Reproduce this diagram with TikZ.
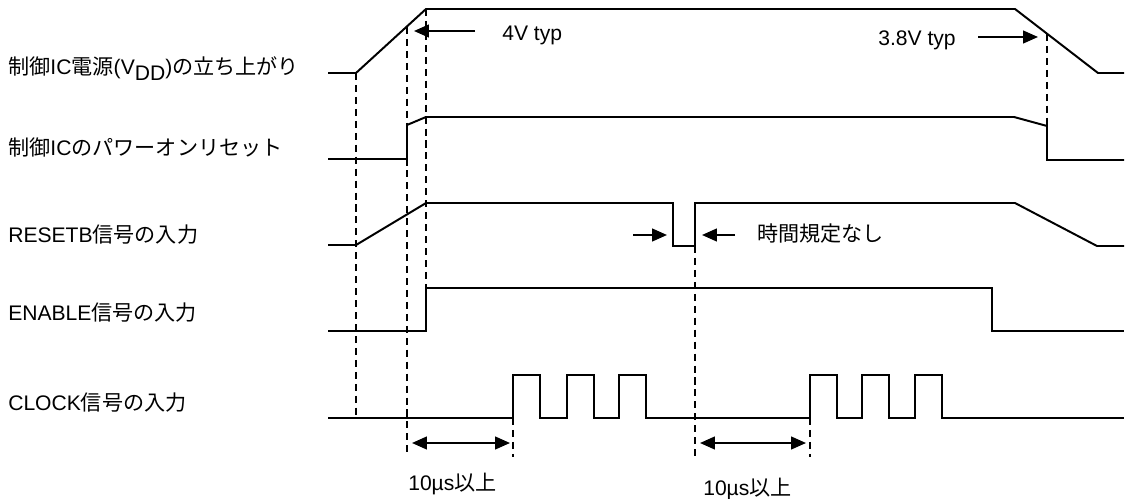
\documentclass[tikz,border=0pt]{standalone}
\usepackage{fontspec}
\setmainfont{Liberation Sans}
\newfontfamily\jp{Noto Sans CJK JP}
\usepackage{tikz}
\usetikzlibrary{
    arrows.meta
}
\newcommand{\ja}[1]{{\jp #1}}
\tikzset{
    >={Triangle[length=10.5pt,width=9pt]},
    senal/.style={
        line width=1.4pt,
        line join=miter
    },
    guia/.style={
        line width=1.3pt,
        dash pattern=on 5pt off 3.5pt
    },
    flecha/.style={
        line width=1.3pt
    },
    rotulo/.style={
        anchor=base west,
        inner sep=0pt,
        font=\fontsize{15}{18}\selectfont
    }
}

\begin{document}
\begin{tikzpicture}[
    x=0.025cm,
    y=-0.025cm
]
    \useasboundingbox (0,0) rectangle (1126,499);

    % Rotulos
    \node[rotulo] (vdd)    at (8,75)   {\ja{制御}IC\ja{電源}(V\raisebox{-4pt}{DD})\ja{の立ち上がり}};
    \node[rotulo] (por)    at (8,155)  {\ja{制御}IC\ja{のパワーオンリセット}};
    \node[rotulo] (resetb) at (8,242)  {RESETB\ja{信号の入力}};
    \node[rotulo] (enable) at (8,320)  {ENABLE\ja{信号の入力}};
    \node[rotulo] (clock)  at (8,410)  {CLOCK\ja{信号の入力}};

    \node[rotulo] (v4)     at (502,41) {4V typ};
    \node[rotulo] (v38)    at (878,46) {3.8V typ};
    \node[rotulo] (libre)  at (757,241) {\ja{時間規定なし}};
    \node[rotulo] (t1)     at (408,490) {10µs\ja{以上}};
    \node[rotulo] (t2)     at (703,495) {10µs\ja{以上}};

    % Senales
    \draw[senal] (328,73) -- (356,73) -- (426,9) -- (1015,9) -- (1098,73) -- (1124,73);
    \draw[senal] (328,159) -- (407,159) -- (407,125) -- (426,117) -- (1014,117)
        -- (1047,126) -- (1047,160) -- (1124,160);
    \draw[senal] (328,245) -- (356,245) -- (426,203) -- (673,203) -- (673,246)
        -- (695,246) -- (695,203) -- (1015,203) -- (1097,246) -- (1124,246);
    \draw[senal] (328,331) -- (426,331) -- (426,288) -- (992,288) -- (992,331) -- (1124,331);
    \draw[senal] (328,418)
        foreach \x in {513,567,619,810,862,915} {
            -- (\x,418) -- (\x,375) -- (\x+27,375) -- (\x+27,418)
        }
        -- (1124,418);

    % Guias
    \draw[guia] (356,73)  -- (356,418);
    \draw[guia] (407,27)  -- (407,455);
    \draw[guia] (426,9)   -- (426,288);
    \draw[guia] (513,418) -- (513,457);
    \draw[guia] (695,246) -- (695,457);
    \draw[guia] (810,418) -- (810,457);
    \draw[guia] (1047,34) -- (1047,126);

    % Flechas
    \coordinate (c4a)  at (475,31);
    \coordinate (c4b)  at (414,31);
    \coordinate (c38a) at (978,37);
    \coordinate (c38b) at (1038,37);
    \coordinate (ra)   at (633,235);
    \coordinate (rb)   at (667,235);
    \coordinate (rc)   at (735,235);
    \coordinate (rd)   at (702,235);
    \coordinate (d1a)  at (412,443);
    \coordinate (d1b)  at (510,443);
    \coordinate (d2a)  at (700,443);
    \coordinate (d2b)  at (806,443);

    \path[->, flecha]
        (c4a)  edge (c4b)
        (c38a) edge (c38b)
        (ra)   edge (rb)
        (rc)   edge (rd);

    \path[<->, flecha]
        (d1a) edge (d1b)
        (d2a) edge (d2b);

\end{tikzpicture}
\end{document}
